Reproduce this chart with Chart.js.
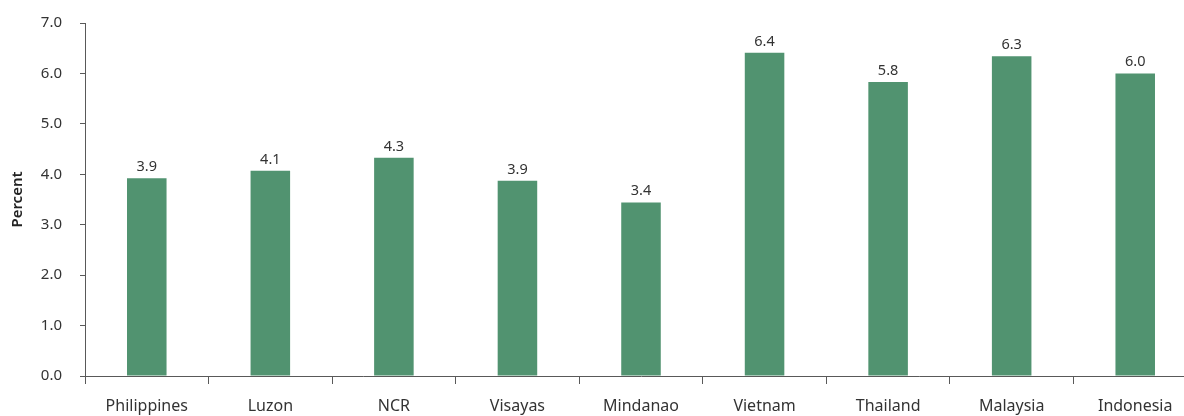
<!DOCTYPE html>
<html>
<head>
<meta charset="utf-8">
<script src="https://cdn.jsdelivr.net/npm/chart.js@4.4.1/dist/chart.umd.min.js"></script>
<style>
  html, body { margin: 0; padding: 0; background: #fff; overflow: hidden; }
  #wrap { width: 1197px; height: 420px; margin-top: -4px; }
</style>
</head>
<body>
<div id="wrap"><canvas id="barChart" width="1197" height="420"></canvas></div>
<script>
/* ------------------------------
   DATA
--------------------------------*/
const categories = ["Philippines", "Luzon", "NCR", "Visayas", "Mindanao", "Vietnam", "Thailand", "Malaysia", "Indonesia"];
const values = [3.92, 4.07, 4.33, 3.87, 3.44, 6.41, 5.83, 6.34, 6.0];
const yTicks = [0, 1, 2, 3, 4, 5, 6, 7];

const barColor = "#519370";
const axisColor = "#595959";
const textColor = "#333333";
const fontFamily = "'Noto Sans', 'Open Sans', sans-serif";

/* ------------------------------
   VALUE LABELS ABOVE BARS
--------------------------------*/
const valueLabels = {
    id: "valueLabels",
    afterDatasetsDraw(chart) {
        const ctx = chart.ctx;
        const meta = chart.getDatasetMeta(0);
        ctx.save();
        ctx.font = "14.5px " + fontFamily;
        ctx.fillStyle = textColor;
        ctx.textAlign = "center";
        ctx.textBaseline = "bottom";
        meta.data.forEach((bar, i) => {
            ctx.fillText(values[i].toFixed(1), bar.x, bar.y - 4);
        });
        ctx.restore();
    }
};

let barCtx = document.getElementById("barChart");

let barChart = new Chart(barCtx, {
    type: "bar",
    data: {
        labels: categories,
        datasets: [{
            data: values,
            backgroundColor: barColor,
            borderWidth: 0,
            categoryPercentage: 0.8,
            barPercentage: 0.4
        }]
    },
    options: {
        responsive: false,
        animation: false,
        layout: { padding: { top: 8, left: 0, right: 0, bottom: 0 } },
        plugins: {
            legend: { display: false },
            tooltip: { enabled: false }
        },
        scales: {
            x: {
                offset: true,
                grid: {
                    offset: true,
                    drawOnChartArea: false,
                    tickLength: 8,
                    color: axisColor
                },
                border: { color: axisColor, width: 1 },
                ticks: {
                    color: textColor,
                    padding: 13,
                    maxRotation: 0,
                    font: { family: fontFamily, size: 16 }
                },
                afterFit(scale) { scale.height = 40; }
            },
            y: {
                min: 0,
                max: 7,
                afterBuildTicks(scale) {
                    scale.ticks = yTicks.map(v => ({ value: v }));
                },
                grid: {
                    drawOnChartArea: false,
                    tickLength: 5,
                    color: axisColor
                },
                border: { color: axisColor, width: 1 },
                ticks: {
                    color: textColor,
                    padding: 18,
                    font: { family: fontFamily, size: 15 },
                    callback: v => Number(v).toFixed(1)
                },
                title: {
                    display: true,
                    text: "Percent",
                    color: "#222222",
                    padding: { top: 9, bottom: 0 },
                    font: { family: fontFamily, size: 15, weight: "600" }
                },
                afterFit(scale) { scale.width = 85; }
            }
        }
    },
    plugins: [valueLabels]
});
</script>
</body>
</html>
